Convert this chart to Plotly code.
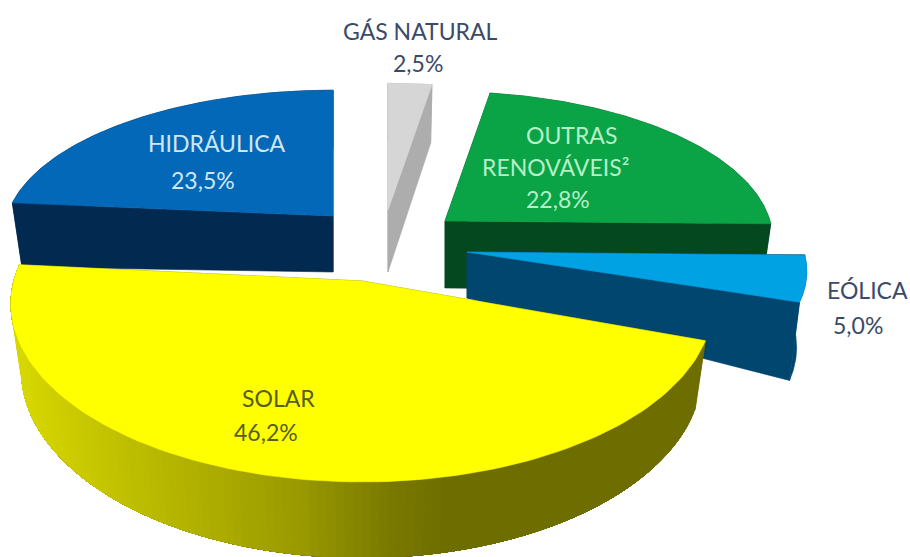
import numpy as np
import plotly.graph_objects as go

# Data
categories = ["GÁS NATURAL", "OUTRAS RENOVÁVEIS²", "EÓLICA", "SOLAR", "HIDRÁULICA"]
values = [2.5, 22.8, 5.0, 46.2, 23.5]
value_labels = ["2,5%", "22,8%", "5,0%", "46,2%", "23,5%"]

# Styles / layout
top_colors = ["#d6d6d6", "#0aa346", "#00a2e3", "#ffff00", "#0468b8"]
side_colors = ["#adadad", "#03481f", "#00466f", "#6e6c00", "#022a50"]
# apex x, apex y, x radius, y scale, depth at apex, depth at rim
geometry = [
    (388, 210, 317, 143, 62, 66),
    (445, 221, 325, 146, 67, 67),
    (467, 252, 337, 147, 46, 75),
    (362, 281, 348, 175, 66, 66),
    (333, 216, 326, 142, 56, 65),
]
PERSP = 0.129
SHRINK = 0.97
TEXT_DARK = "#3b4a68"
FONT = "Lato"
FS = 23

cum = np.cumsum([0] + values)
starts = cum[:-1] / 100 * 2 * np.pi
ends = cum[1:] / 100 * 2 * np.pi


def top_pt(t, g):
    ax, ay, A, B, _, _ = g
    u, v = np.sin(t), np.cos(t)
    w = 1 + PERSP * v
    return ax + A * u / w, ay - B * v / w


def bot_pt(t, g):
    ax, ay, A, B, da, dr = g
    x, y = top_pt(t, g)
    w = 1 + PERSP * np.cos(t)
    return ax + (x - ax) * SHRINK, y + dr / w


def poly(xs, ys, color):
    return go.Scatter(x=list(xs), y=list(ys), mode="lines", fill="toself", fillcolor=color,
                      line=dict(color=color, width=0.6), hoverinfo="skip", showlegend=False)


fig = go.Figure()
order = [0, 4, 1, 2, 3]
for i in order:
    g = geometry[i]
    ax, ay, A, B, da, dr = g
    s, e = starts[i], ends[i]
    ts = np.linspace(s, e, 120)
    tx, ty = top_pt(ts, g)
    bx, by = bot_pt(ts, g)
    name = categories[i]
    # cut faces
    for t in (s, e):
        x1, y1 = top_pt(t, g)
        x2, y2 = bot_pt(t, g)
        fig.add_trace(poly([ax, x1, x2, ax, ax], [ay, y1, y2, ay + da, ay], side_colors[i]))
    # rim
    if name == "SOLAR":
        stops_x = [20, 133, 300, 400, 455, 910]
        stops_c = [215, 190, 155, 120, 110, 110]
        edges = np.linspace(s, e, 130)
        # painted from the right: each band runs on to the far end, so no seams show
        for a in edges[:-1]:
            seg = np.linspace(a, e, 40)
            sx, sy = top_pt(seg, g)
            ux, uy = bot_pt(seg, g)
            lev = int(np.interp(sx[0], stops_x, stops_c))
            col = f"rgb({lev},{lev},0)"
            fig.add_trace(poly(np.r_[sx, ux[::-1], sx[0]], np.r_[sy, uy[::-1], sy[0]], col))
    else:
        fig.add_trace(poly(np.r_[tx, bx[::-1], tx[0]], np.r_[ty, by[::-1], ty[0]], side_colors[i]))
    # top
    fig.add_trace(poly(np.r_[ax, tx, ax], np.r_[ay, ty, ay], top_colors[i]))

labels = [
    (categories[0], 420, 31, TEXT_DARK),
    (value_labels[0], 418, 63, TEXT_DARK),
    ("OUTRAS", 571, 135, "#b5f0c9"),
    ("RENOVÁVEIS²", 555, 167, "#b5f0c9"),
    (value_labels[1], 558, 199, "#b5f0c9"),
    (categories[4], 217, 143, "#cfe6f5"),
    (value_labels[4], 203, 180, "#cfe6f5"),
    (categories[2], 867, 290, TEXT_DARK),
    (value_labels[2], 858, 325, TEXT_DARK),
    (categories[3], 278, 398, "#55601c"),
    (value_labels[3], 266, 432, "#55601c"),
]
for txt, x, y, c in labels:
    fig.add_annotation(x=x, y=y, text=txt, showarrow=False, xanchor="center", yanchor="middle",
                       font=dict(family=FONT, size=FS, color=c))

fig.update_layout(
    width=910, height=557, margin=dict(l=0, r=0, t=0, b=0),
    paper_bgcolor="white", plot_bgcolor="white", showlegend=False,
    xaxis=dict(range=[0, 910], visible=False, fixedrange=True),
    yaxis=dict(range=[557, 0], visible=False, fixedrange=True),
)
fig.write_html("out.html", config={"displayModeBar": False},
               post_script="document.body.style.margin='0';document.documentElement.style.overflow='hidden';")
